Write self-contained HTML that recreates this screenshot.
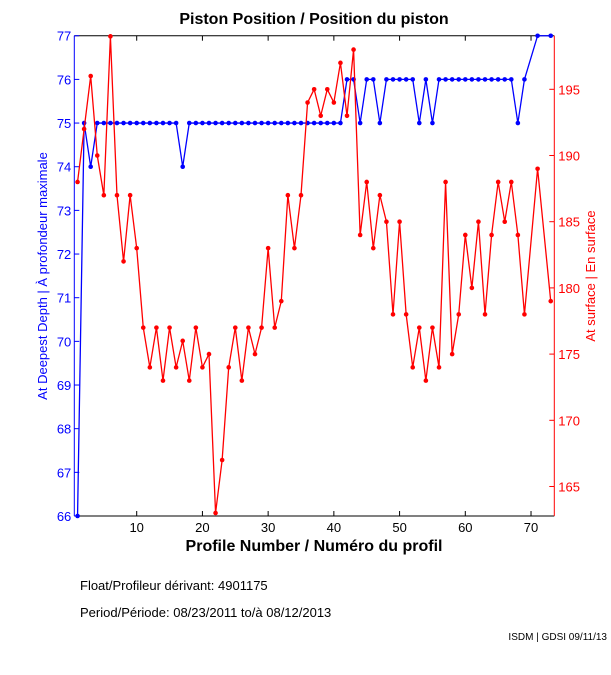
<!DOCTYPE html>
<html><head><meta charset="utf-8"><style>
body{margin:0;background:#fff;width:611px;height:675px;overflow:hidden}
svg{display:block;font-family:"Liberation Sans",sans-serif}
</style></head><body>
<svg id="s" width="611" height="675" xmlns="http://www.w3.org/2000/svg">
<rect width="611" height="675" fill="#fff"/>
<text x="314" y="24" font-size="16" font-weight="bold" text-anchor="middle">Piston Position / Position du piston</text>
<text x="314" y="551" font-size="16" font-weight="bold" text-anchor="middle">Profile Number / Numéro du profil</text>
<text transform="translate(47,276) rotate(-90)" font-size="13" fill="#0000ff" text-anchor="middle">At Deepest Depth | À profondeur maximale</text>
<text transform="translate(595,276) rotate(-90)" font-size="13" fill="#ff0000" text-anchor="middle">At surface | En surface</text>
<text x="80" y="590" font-size="13">Float/Profileur dérivant:  4901175</text>
<text x="80" y="617" font-size="13">Period/Période:  08/23/2011  to/à  08/12/2013</text>
<text x="607" y="640" font-size="10" text-anchor="end">ISDM | GDSI 09/11/13</text>
<g id="g"></g>
</svg>
<script>
const X=n=>136.7+(n-10)*6.572, YL=v=>516-(v-66)*43.66, YR=v=>89.3+(195-v)*13.24;
let h='';
const L=74.3,R=554.3,T=35.7,B=516;
h+=`<line x1="${L}" y1="${T}" x2="${R}" y2="${T}" stroke="#000"/><line x1="${L}" y1="${B}" x2="${R}" y2="${B}" stroke="#000"/>`;
h+=`<line x1="${L}" y1="${T}" x2="${L}" y2="${B}" stroke="#0000ff"/><line x1="${R}" y1="${T}" x2="${R}" y2="${B}" stroke="#ff0000"/>`;
for(let t=10;t<=70;t+=10){const x=X(t);h+=`<line x1="${x}" y1="${B}" x2="${x}" y2="${B-5}" stroke="#000"/><line x1="${x}" y1="${T}" x2="${x}" y2="${T+5}" stroke="#000"/><text x="${x}" y="${B+16}" font-size="13" text-anchor="middle">${t}</text>`;}
for(let v=66;v<=77;v++){const y=YL(v);h+=`<line x1="${L}" y1="${y}" x2="${L+5}" y2="${y}" stroke="#0000ff"/><text x="${L-3}" y="${y+5}" font-size="13" fill="#0000ff" text-anchor="end">${v}</text>`;}
for(let v=165;v<=195;v+=5){const y=YR(v);h+=`<line x1="${R}" y1="${y}" x2="${R-5}" y2="${y}" stroke="#ff0000"/><text x="${R+4}" y="${y+5}" font-size="13" fill="#ff0000">${v}</text>`;}
const blue={1:66,2:75,3:74,17:74,42:76,43:76,44:75,45:76,46:76,47:75,48:76,49:76,50:76,51:76,52:76,53:75,54:76,55:75,68:75,69:76,71:77,73:77};
const red=[188,192,196,190,187,199,187,182,187,183,177,174,177,173,177,174,176,173,177,174,175,163,167,174,177,173,177,175,177,183,177,179,187,183,187,194,195,193,195,194,197,193,198,184,188,183,187,185,178,185,178,174,177,173,177,174,188,175,178,184,180,185,178,184,188,185,188,184,178,null,189,null,179];
let bp=[],rp=[];
for(let n=1;n<=73;n++){if(n==70||n==72)continue;
 let b=blue[n]!==undefined?blue[n]:(n<42?75:76);bp.push([X(n),YL(b)]);
 rp.push([X(n),YR(red[n-1])]);}
const draw=(p,c)=>{let s=`<polyline fill="none" stroke="${c}" stroke-width="1.3" points="${p.map(q=>q.join(',')).join(' ')}"/>`;p.forEach(q=>s+=`<circle cx="${q[0]}" cy="${q[1]}" r="2.3" fill="${c}"/>`);return s;};
h+=draw(bp,'#0000ff')+draw(rp,'#ff0000');
document.getElementById('g').innerHTML=h;
</script>
</body></html>
